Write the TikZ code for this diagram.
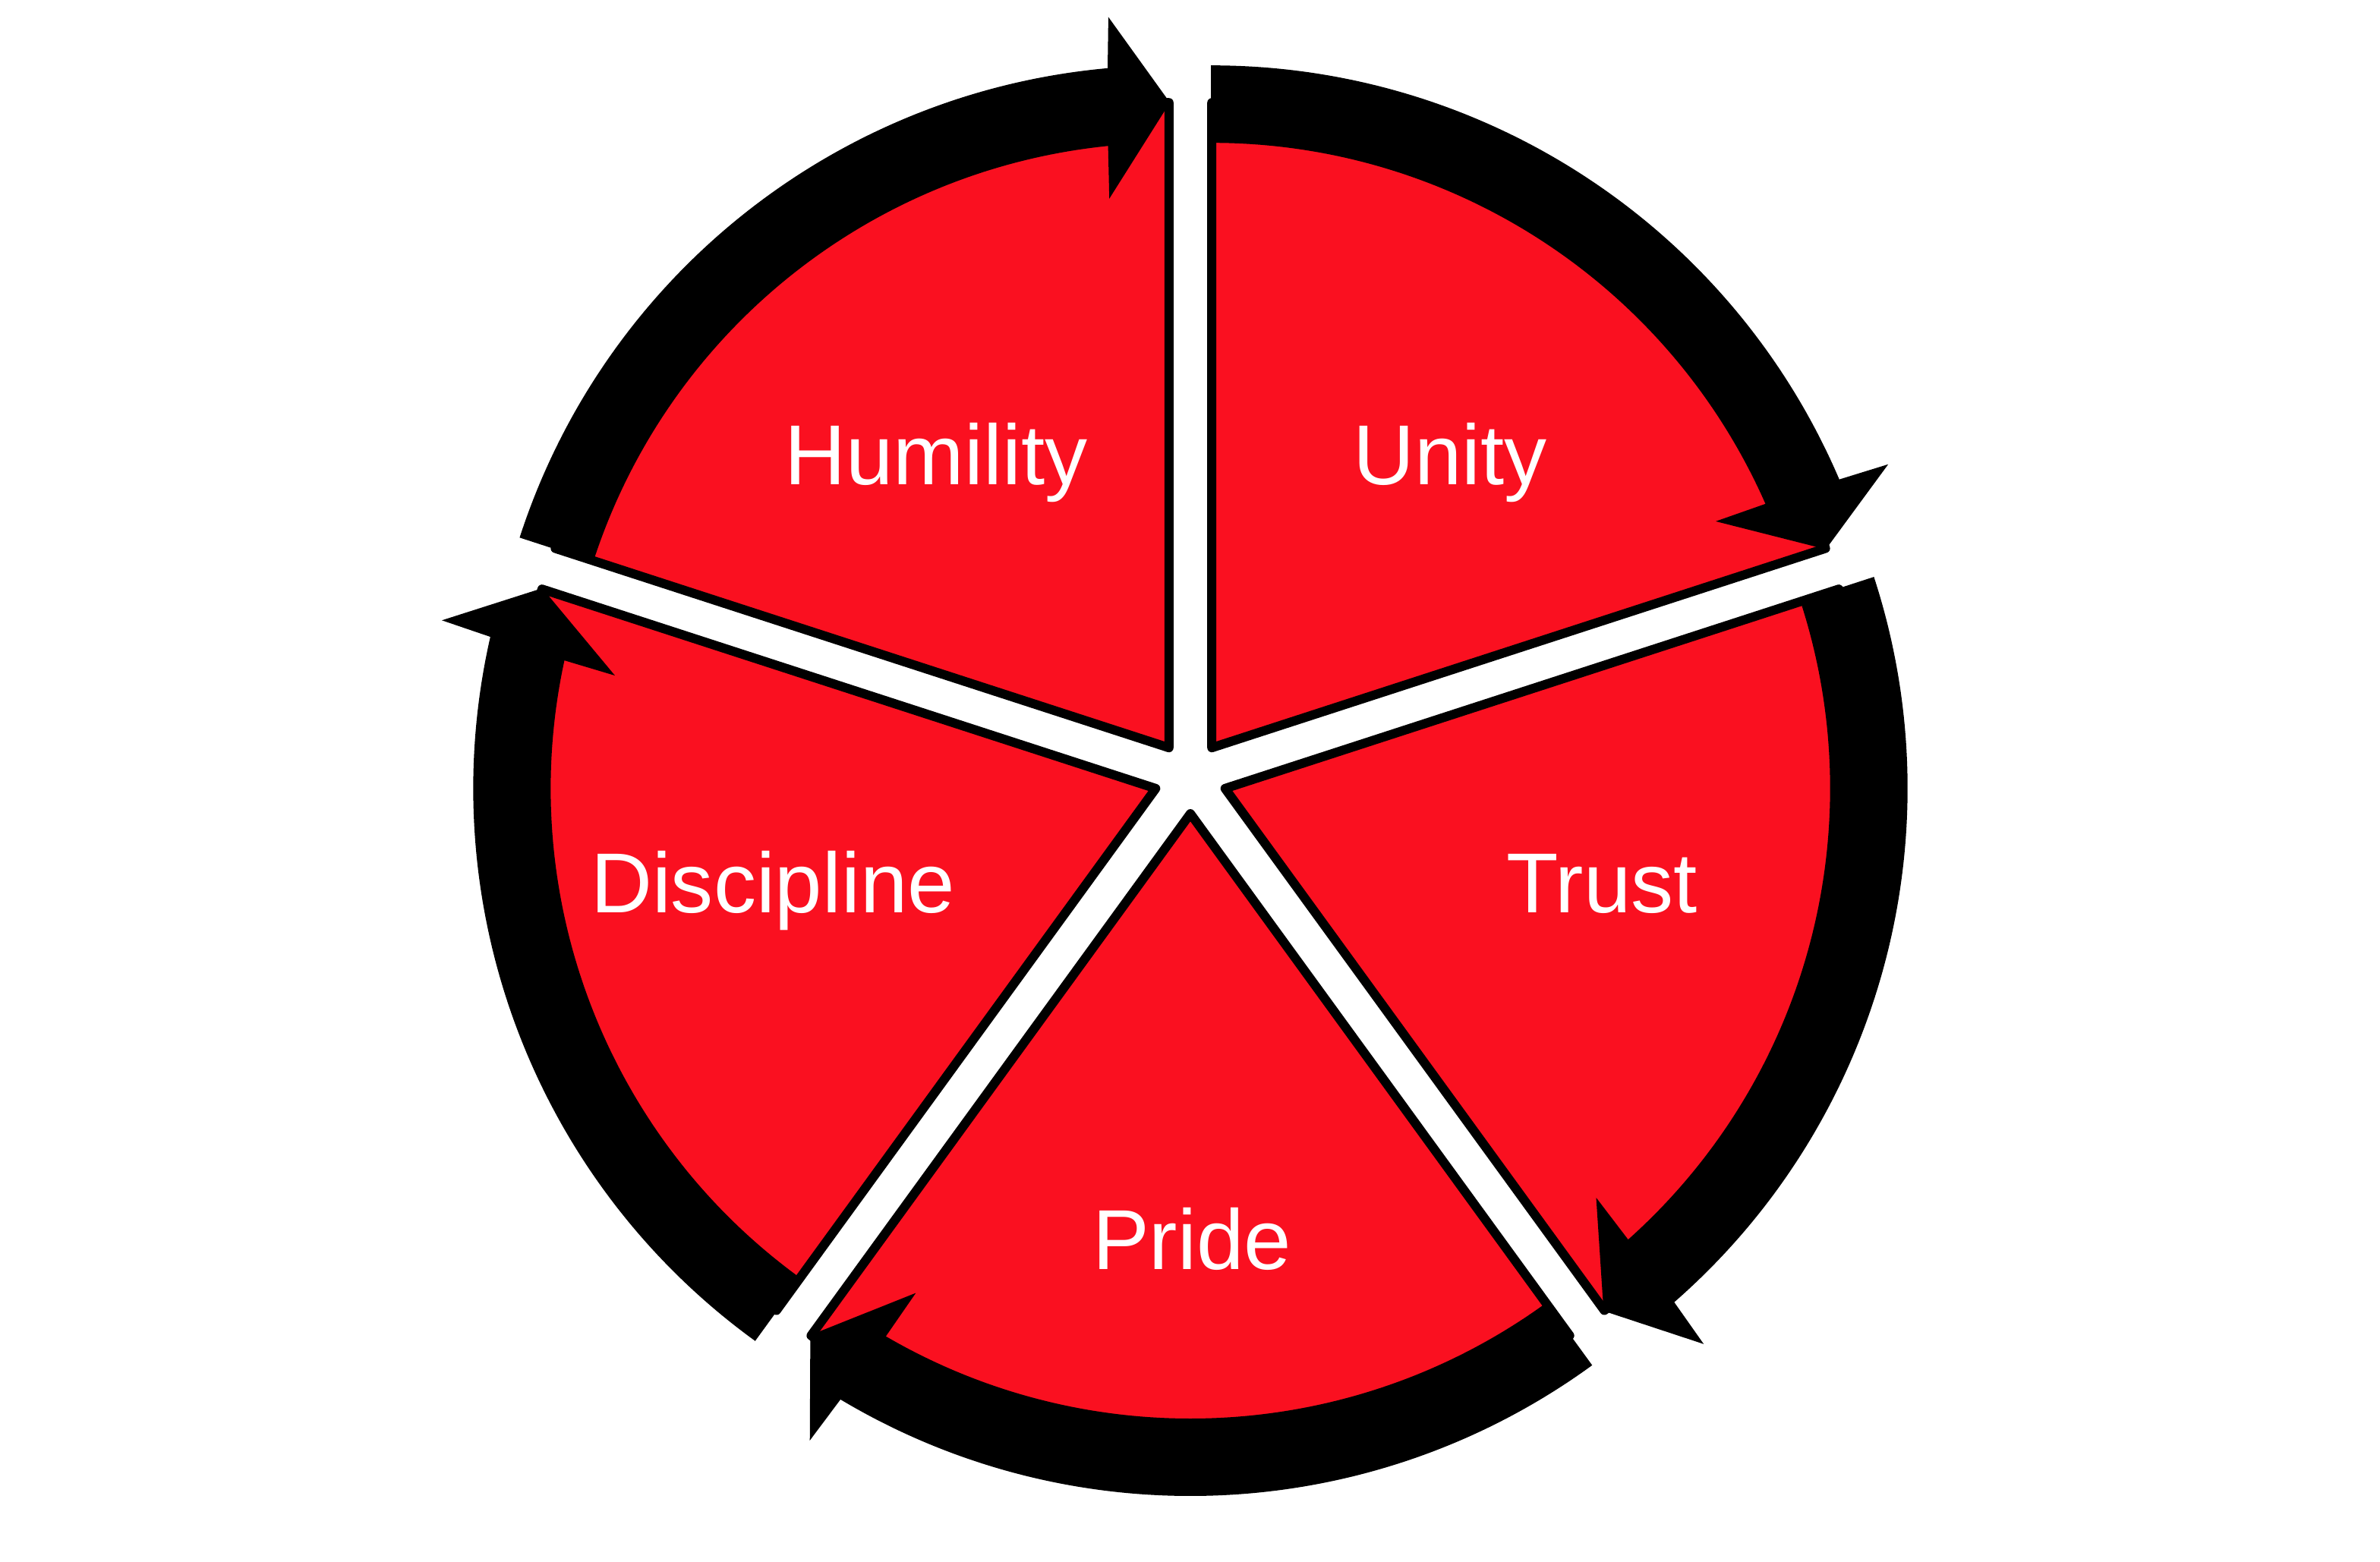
\documentclass[tikz,border=0pt]{standalone}
\usepackage{fontspec}
\setmainfont{Liberation Sans}
\usetikzlibrary{calc}
\definecolor{segred}{RGB}{250,16,32}
\newcommand\cycseg[3]{% #1 name, #2 start angle, #3 bisector
  \coordinate (#1) at ($(C)+(#3:0.48)$);
  \pgfmathsetmacro\segend{#2-72}
  \draw[seg] (#1) -- ($(#1)+(#2:8.5)$) arc[start angle=#2, end angle=\segend, radius=8.5] -- cycle;
  \pgfmathsetmacro\ea{\segend+5.1}
  \pgfmathsetmacro\eb{\segend+4.7}
  \pgfmathsetmacro\ec{\segend+6.1}
  \pgfmathsetmacro\ed{\segend+5.7}
  \path[band] ($(#1)+(#2:8.98)$) arc[start angle=#2, end angle=\ea, radius=8.98]
    -- ($(#1)+(\eb:9.63)$) -- ($(#1)+(\segend:8.5)$) -- ($(#1)+(\ec:7.31)$)
    -- ($(#1)+(\ed:7.98)$) arc[start angle=\ed, end angle=#2, radius=7.98] -- cycle;
}
\begin{document}
\begin{tikzpicture}[x=1cm,y=1cm,
  seg/.style={fill=segred, draw=black, line width=0.12cm, line join=round},
  band/.style={fill=black, draw=black, line width=0.02cm, line join=miter},
  lbl/.style={text=white, font=\fontsize{31.9}{38}\selectfont, anchor=base, inner sep=0pt}]
\useasboundingbox (0,0) rectangle (31.35,-20.57);
\coordinate (C) at (15.68,-10.24);
\cycseg{vhum}{162}{126}
\cycseg{vuni}{90}{54}
\cycseg{vtru}{18}{-18}
\cycseg{vpri}{-54}{-90}
\cycseg{vdis}{234}{198}
\node[lbl] (hum) at (12.33,-6.38) {Humility};
\node[lbl] (uni) at (19.10,-6.38) {Unity};
\node[lbl] (dis) at (10.18,-12.02) {Discipline};
\node[lbl] (tru) at (21.10,-12.02) {Trust};
\node[lbl] (pri) at (15.70,-16.72) {Pride};
\end{tikzpicture}
\end{document}
